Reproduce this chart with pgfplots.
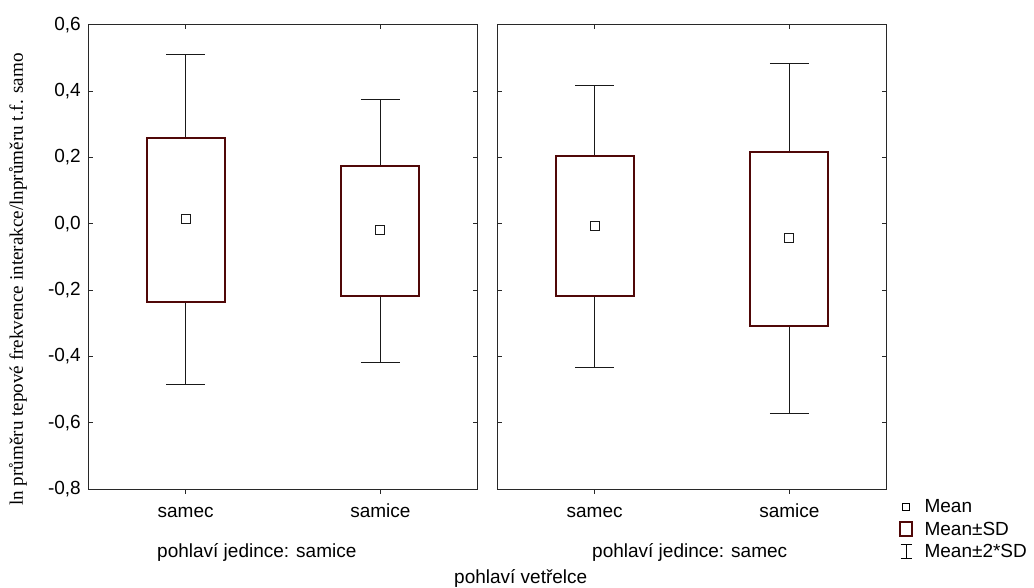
\documentclass[border=0pt]{standalone}
\usepackage{fontspec}
\setmainfont{Liberation Sans}
\newfontfamily\seriffont{Liberation Serif}
\usepackage{pgfplots}
\pgfplotsset{compat=1.18}
\usepgfplotslibrary{statistics}
\definecolor{boxred}{RGB}{80,8,8}
\definecolor{axisgray}{RGB}{40,40,40}
\newcommand{\bigf}{\fontsize{19}{23}\selectfont}
\pgfplotsset{
  panel/.style={
    scale only axis, width=389.4pt, height=464.6pt,
    xmin=-0.5, xmax=1.5, ymin=-0.8, ymax=0.6,
    axis line style={axisgray, line width=1.3pt},
    xtick={0,1}, xticklabels={samec,samice},
    ytick={-0.8,-0.6,-0.4,-0.2,0,0.2,0.4,0.6},
    tick style={axisgray, line width=1pt},
    major tick length=4.5pt,
    ytick align=inside,
    xtick pos=left, xtick align=outside,
    extra x ticks={0,1}, extra x tick labels={},
    extra x tick style={xtick pos=right, xtick align=inside},
    ticklabel style={font=\bigf},
    xticklabel style={anchor=base, yshift=-24pt},
    yticklabel style={xshift=-4pt},
    clip=false,
    boxplot/draw direction=y,
  },
  mybox/.style={
    forget plot, black!90, line width=1pt,
    boxplot/draw direction=y,
    boxplot/every box/.style={draw=boxred, line width=2pt, fill=white},
    boxplot/every whisker/.style={black!90, line width=1pt},
    boxplot/draw/median/.code={},
    boxplot/every average/.style={/tikz/mark=square, /tikz/mark size=4.5pt, /tikz/mark options={draw=black, line width=1pt}},
  },
}
\begin{document}
\begin{tikzpicture}
\useasboundingbox (0,0) rectangle (1034pt,588pt);
\begin{axis}[panel, at={(88.3pt,98.7pt)}, anchor=south west,
  yticklabels={{-0,8},{-0,6},{-0,4},{-0,2},{0,0},{0,2},{0,4},{0,6}}]
\addplot[mybox, boxplot prepared={draw position=0, lower whisker=-0.485, lower quartile=-0.235, median=0.014, average=0.014, upper quartile=0.260, upper whisker=0.510, box extend=0.4, whisker extend=0.2}] coordinates {};
\addplot[mybox, boxplot prepared={draw position=1, lower whisker=-0.418, lower quartile=-0.219, median=-0.020, average=-0.020, upper quartile=0.175, upper whisker=0.374, box extend=0.4, whisker extend=0.2}] coordinates {};
\end{axis}
\begin{axis}[panel, at={(497.3pt,98.7pt)}, anchor=south west,
  yticklabels={},
  legend style={at={(1.03,-0.018)}, anchor=north west, draw=none, fill=none, font=\bigf, row sep=3.5pt, inner sep=0pt},
  legend cell align=left]
\addlegendimage{legend image code/.code={\path[draw=none] (0,0) -- (24pt,0); \draw[black, line width=0.8pt, fill=white] (4pt,-3.5pt) rectangle (11pt,3.5pt);}}
\addlegendentry{Mean}
\addlegendimage{legend image code/.code={\path[draw=none] (0,0) -- (24pt,0); \draw[boxred, line width=1.8pt, fill=white] (1.5pt,-7pt) rectangle (13.5pt,7pt);}}
\addlegendentry{Mean±SD}
\addlegendimage{legend image code/.code={\path[draw=none] (0,0) -- (24pt,0); \draw[black, line width=0.9pt] (7.5pt,-7pt) -- (7.5pt,7pt) (2pt,7pt) -- (13pt,7pt) (2pt,-7pt) -- (13pt,-7pt);}}
\addlegendentry{Mean±2*SD}
\addplot[mybox, boxplot prepared={draw position=0, lower whisker=-0.433, lower quartile=-0.219, median=-0.006, average=-0.006, upper quartile=0.205, upper whisker=0.418, box extend=0.4, whisker extend=0.2}] coordinates {};
\addplot[mybox, boxplot prepared={draw position=1, lower whisker=-0.573, lower quartile=-0.307, median=-0.044, average=-0.044, upper quartile=0.217, upper whisker=0.482, box extend=0.4, whisker extend=0.2}] coordinates {};
\end{axis}
\node[rotate=90, font=\seriffont\fontsize{19.1}{22}\selectfont] at (18pt,308.5pt) {ln průměru tepové frekvence interakce/lnprůměru t.f. samo};
\node[anchor=base west, font=\bigf, inner sep=0pt] at (157pt,30pt) {pohlaví jedince: samice};
\node[anchor=base west, font=\bigf, inner sep=0pt] at (592pt,30pt) {pohlaví jedince: samec};
\node[anchor=base west, font=\bigf, inner sep=0pt] at (454pt,4pt) {pohlaví vetřelce};
\end{tikzpicture}
\end{document}
